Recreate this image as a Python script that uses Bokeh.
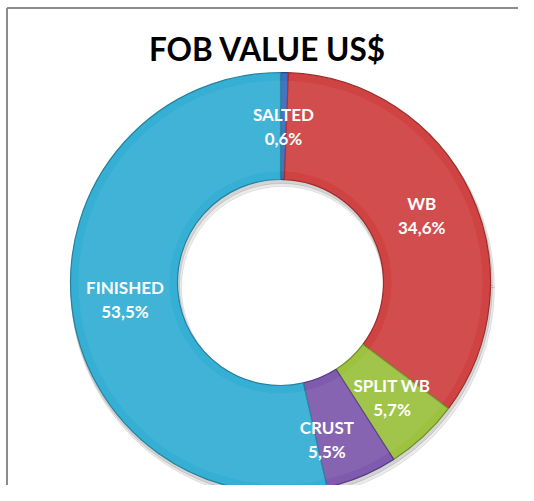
import math
from bokeh.plotting import figure
from bokeh.models import Range1d, ColumnDataSource
from bokeh.core.properties import value
from bokeh.embed import file_html
from bokeh.resources import INLINE

# ---- data ----
title = "FOB VALUE US$"
categories = ["SALTED", "WB", "SPLIT WB", "CRUST", "FINISHED"]
shares = [0.6, 34.6, 5.7, 5.5, 53.5]

# ---- styles ----
colors = ["#3a6cc0", "#d04343", "#9cc240", "#7f5bae", "#36afd4"]
edge_colors = ["#1f4a8f", "#9e2c2c", "#6f8f28", "#553a80", "#24829f"]
# label nudges in pixels (dx, dy upward), as the original placed them
label_nudge = {"SPLIT WB": (5, 0), "CRUST": (-14, -13)}

# ---- layout (pixels, y measured from the top of the figure) ----
W, H = 518, 485
cx, cy_top = 280, 282
r_out, r_in = 210, 103
cy = H - cy_top

total = sum(shares)
starts, ends, mids = [], [], []
acc = 0.0
for s in shares:
    a0 = math.pi / 2 - 2 * math.pi * acc / total
    acc += s
    a1 = math.pi / 2 - 2 * math.pi * acc / total
    starts.append(a0)
    ends.append(a1)
    mids.append((a0 + a1) / 2)

r_mid = (r_out + r_in) / 2
lx = [cx + r_mid * math.cos(m) + label_nudge.get(c, (0, 0))[0] for m, c in zip(mids, categories)]
ly = [cy + r_mid * math.sin(m) + label_nudge.get(c, (0, 0))[1] for m, c in zip(mids, categories)]
pct = [f"{s:.1f}".replace(".", ",") + "%" for s in shares]

src = ColumnDataSource(dict(cat=categories, start=starts, end=ends, color=colors,
                            edge=edge_colors, lx=lx, ly=ly, pct=pct))

p = figure(width=W, height=H, output_backend="svg", toolbar_location=None,
           x_range=Range1d(0, W), y_range=Range1d(0, H), min_border=0)
p.axis.visible = False
p.grid.visible = False
p.outline_line_color = None
p.background_fill_color = "white"
p.border_fill_color = "white"

# chart-area border (left and top edges)
bx, by = 6.5, H - 7.5
p.segment(x0=[bx, bx], y0=[0, by], x1=[bx, W], y1=[by, by],
          line_color="#8c8c8c", line_width=2)

# soft shadow
p.annular_wedge(x=cx + 2, y=cy - 5, inner_radius=r_in - 2, outer_radius=r_out + 2,
                start_angle=0, end_angle=2 * math.pi, color="#000000", alpha=0.08)
p.annular_wedge(x=cx + 1, y=cy - 3, inner_radius=r_in - 1, outer_radius=r_out + 1,
                start_angle=0, end_angle=2 * math.pi, color="#000000", alpha=0.10)

p.annular_wedge(x=cx, y=cy, inner_radius=r_in, outer_radius=r_out,
                start_angle="start", end_angle="end", direction="clock",
                fill_color="color", line_color="edge", line_width=1.2, source=src)
# subtle highlight band
p.annular_wedge(x=cx, y=cy, inner_radius=r_in + 8, outer_radius=r_out - 8,
                start_angle="start", end_angle="end", direction="clock",
                fill_color="white", fill_alpha=0.06, line_color=None, source=src)

p.text(x="lx", y="ly", text="cat", y_offset=-12, source=src, text_color="white",
       text_font=value("Lato"), text_font_style="bold", text_font_size="17px",
       text_align="center", text_baseline="middle")
p.text(x="lx", y="ly", text="pct", y_offset=12, source=src, text_color="white",
       text_font=value("Lato"), text_font_style="bold", text_font_size="17px",
       text_align="center", text_baseline="middle")

p.text(x=[267], y=[H - 48], text=[title], text_color="black",
       text_font=value("Lato"), text_font_style="bold", text_font_size="31.5px",
       text_align="center", text_baseline="middle")

open("out.html", "w").write(file_html(p, INLINE))
